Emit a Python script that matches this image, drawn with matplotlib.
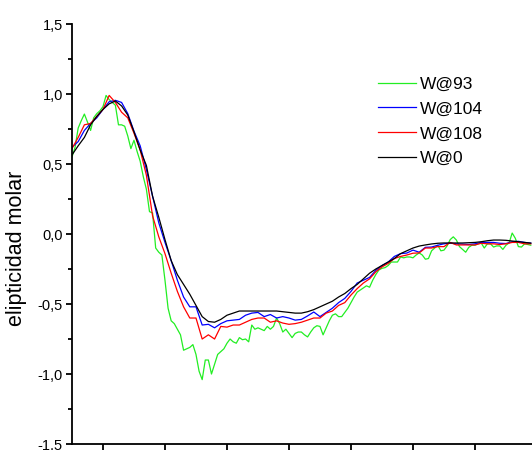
import numpy as np
import matplotlib
matplotlib.use('Agg')
import matplotlib.pyplot as plt
from matplotlib.ticker import MultipleLocator, FuncFormatter

plt.rcParams['font.family'] = ['Liberation Sans', 'DejaVu Sans']

# wavelength grid (nm), 1 nm steps for the smoother curves
wl = np.arange(195, 270)

w0 = [0.565, 0.63, 0.69, 0.78, 0.84, 0.89, 0.93, 0.95, 0.915, 0.85,
      0.73, 0.60, 0.49, 0.27, 0.12, -0.04, -0.19, -0.29, -0.36, -0.43,
      -0.51, -0.59, -0.625, -0.63, -0.61, -0.58, -0.565, -0.55, -0.55, -0.55,
      -0.55, -0.55, -0.55, -0.55, -0.555, -0.56, -0.565, -0.565, -0.555, -0.54,
      -0.52, -0.50, -0.48, -0.45, -0.425, -0.39, -0.36, -0.32, -0.28, -0.25,
      -0.225, -0.2, -0.175, -0.14, -0.12, -0.1, -0.086, -0.078, -0.071, -0.066,
      -0.064, -0.064, -0.064, -0.064, -0.062, -0.06, -0.055, -0.048, -0.043, -0.043,
      -0.045, -0.05, -0.055, -0.06, -0.065]

w104 = [0.62, 0.66, 0.74, 0.79, 0.83, 0.89, 0.945, 0.955, 0.94, 0.86,
        0.735, 0.63, 0.46, 0.27, 0.08, -0.06, -0.19, -0.33, -0.45, -0.52,
        -0.52, -0.65, -0.645, -0.67, -0.64, -0.62, -0.615, -0.61, -0.58, -0.565,
        -0.56, -0.59, -0.575, -0.6, -0.59, -0.6, -0.615, -0.61, -0.585, -0.557,
        -0.59, -0.56, -0.53, -0.49, -0.46, -0.41, -0.35, -0.33, -0.31, -0.26,
        -0.225, -0.2, -0.16, -0.14, -0.136, -0.115, -0.13, -0.095, -0.093, -0.08,
        -0.07, -0.065, -0.07, -0.072, -0.075, -0.07, -0.06, -0.06, -0.06, -0.066,
        -0.068, -0.055, -0.052, -0.06, -0.065]

w108 = [0.61, 0.69, 0.78, 0.79, 0.84, 0.89, 0.99, 0.94, 0.87, 0.83,
        0.72, 0.60, 0.42, 0.13, -0.02, -0.14, -0.28, -0.41, -0.52, -0.6,
        -0.6, -0.75, -0.72, -0.75, -0.66, -0.665, -0.65, -0.65, -0.63, -0.61,
        -0.6, -0.6, -0.63, -0.62, -0.636, -0.645, -0.64, -0.63, -0.615, -0.6,
        -0.6, -0.565, -0.55, -0.51, -0.49, -0.436, -0.39, -0.35, -0.32, -0.27,
        -0.235, -0.21, -0.175, -0.16, -0.15, -0.137, -0.135, -0.1, -0.1, -0.09,
        -0.09, -0.06, -0.078, -0.078, -0.078, -0.078, -0.066, -0.07, -0.07, -0.075,
        -0.07, -0.06, -0.06, -0.07, -0.07]

# W@93 is noisier, read at 0.5 nm steps
wl93 = np.arange(195, 269.5, 0.5)
w93 = [0.55, 0.62, 0.757, 0.81, 0.857, 0.80, 0.74, 0.83, 0.86, 0.88,
       0.91, 0.99, 0.96, 0.94, 0.92, 0.78, 0.78, 0.77, 0.70, 0.61,
       0.67, 0.59, 0.52, 0.41, 0.32, 0.16, 0.15, -0.1, -0.13, -0.15,
       -0.33, -0.53, -0.62, -0.64, -0.68, -0.72, -0.83, -0.82, -0.81, -0.79,
       -0.86, -0.98, -1.04, -0.90, -0.90, -1.0, -0.93, -0.86, -0.84, -0.82,
       -0.78, -0.75, -0.77, -0.78, -0.74, -0.755, -0.75, -0.77, -0.65, -0.68,
       -0.67, -0.68, -0.69, -0.66, -0.68, -0.66, -0.60, -0.64, -0.70, -0.68,
       -0.71, -0.74, -0.71, -0.70, -0.70, -0.72, -0.735, -0.70, -0.67, -0.655,
       -0.66, -0.72, -0.67, -0.62, -0.58, -0.57, -0.59, -0.59, -0.56, -0.53,
       -0.49, -0.45, -0.415, -0.40, -0.385, -0.37, -0.38, -0.33, -0.29, -0.257,
       -0.245, -0.24, -0.225, -0.2, -0.2, -0.2, -0.164, -0.17, -0.164, -0.164,
       -0.17, -0.15, -0.135, -0.15, -0.18, -0.175, -0.12, -0.1, -0.08, -0.12,
       -0.115, -0.085, -0.04, -0.02, -0.043, -0.09, -0.11, -0.13, -0.095, -0.08,
       -0.08, -0.07, -0.064, -0.1, -0.07, -0.07, -0.093, -0.085, -0.085, -0.11,
       -0.08, -0.064, 0.007, -0.03, -0.09, -0.093, -0.07, -0.075, -0.08]

fig = plt.figure(figsize=(5.32, 4.5), dpi=100)
ax = fig.add_axes([0.1353, 0.0133, 0.9906, 0.9333])

ax.plot(wl93, w93, color='#22ee22', lw=0.9, label='W@93')
ax.plot(wl, w104, color='#0000ff', lw=0.9, label='W@104')
ax.plot(wl, w108, color='#ff0000', lw=0.9, label='W@108')
ax.plot(wl, w0, color='black', lw=0.9, label='W@0')

ax.set_xlim(195, 280)
ax.set_ylim(-1.5, 1.5)
ax.xaxis.set_major_locator(MultipleLocator(10))
ax.yaxis.set_major_locator(MultipleLocator(0.5))
ax.yaxis.set_minor_locator(MultipleLocator(0.25))
ax.yaxis.set_major_formatter(FuncFormatter(lambda v, p: ('%.1f' % v).replace('.', ',')))

for s in ('top', 'right'):
    ax.spines[s].set_visible(False)
for s in ('left', 'bottom'):
    ax.spines[s].set_linewidth(1.3)
ax.tick_params(axis='both', which='major', direction='out', length=4.5, width=1.3,
               labelsize=10.5, pad=2)
ax.tick_params(axis='y', which='minor', direction='out', length=3, width=1.3)
ax.tick_params(axis='x', labelbottom=False)

ax.set_ylabel('elipticidad molar', fontsize=15.5)
ax.yaxis.set_label_coords(-0.085, 0.465)

ax.legend(loc='upper left', bbox_to_anchor=(0.71, 0.83), bbox_transform=fig.transFigure,
          frameon=False, fontsize=12.5, handlelength=2.2, handletextpad=0.25,
          labelspacing=0.56, borderpad=0, borderaxespad=0)

fig.savefig('out.png', dpi=100)
